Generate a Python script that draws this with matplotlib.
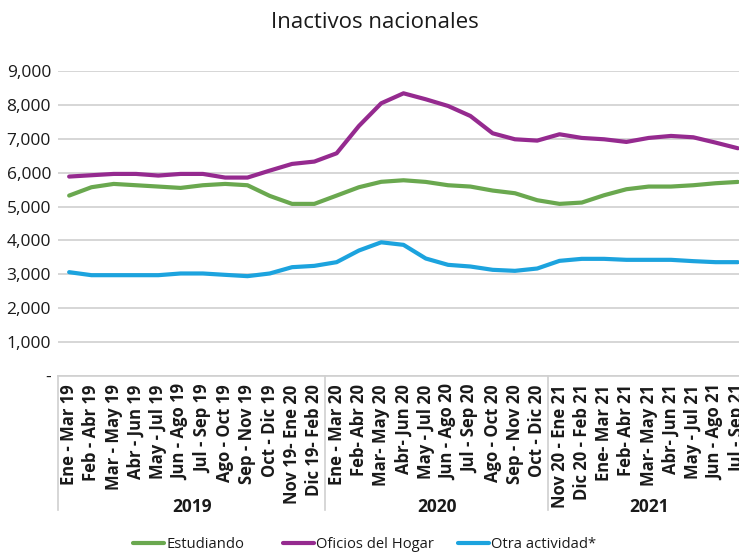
import matplotlib
matplotlib.use("Agg")
import matplotlib.pyplot as plt
import matplotlib.transforms as mtransforms

plt.rcParams['font.family'] = ['Open Sans', 'DejaVu Sans']

periods = [
    "Ene - Mar 19", "Feb - Abr 19", "Mar - May 19", "Abr - Jun 19", "May - Jul 19",
    "Jun - Ago 19", "Jul - Sep 19", "Ago - Oct 19", "Sep - Nov 19", "Oct - Dic 19",
    "Nov 19- Ene 20", "Dic 19- Feb 20",
    "Ene - Mar 20", "Feb- Abr 20", "Mar- May 20", "Abr- Jun 20", "May - Jul 20",
    "Jun - Ago 20", "Jul - Sep 20", "Ago - Oct 20", "Sep - Nov 20", "Oct - Dic 20",
    "Nov 20 - Ene 21", "Dic 20 - Feb 21", "Ene- Mar 21", "Feb- Abr 21", "Mar- May 21",
    "Abr- Jun 21", "May - Jul 21", "Jun - Ago 21", "Jul - Sep 21",
]
years = ["2019", "2020", "2021"]
year_sizes = [12, 10, 9]

estudiando = [5324, 5570, 5668, 5629, 5590, 5550, 5629, 5668, 5629, 5314, 5079, 5079,
              5324, 5570, 5730, 5776, 5727, 5629, 5590, 5472, 5393, 5187,
              5079, 5118, 5334, 5511, 5590, 5590, 5629, 5688, 5727]
oficios_hogar = [5885, 5924, 5963, 5963, 5914, 5963, 5963, 5855, 5855, 6061, 6258, 6327,
                 6572, 7378, 8047, 8342, 8165, 7968, 7673, 7162, 6985, 6946,
                 7133, 7025, 6985, 6907, 7025, 7084, 7044, 6887, 6720]
otra_actividad = [3064, 2975, 2975, 2975, 2975, 3025, 3025, 2985, 2946, 3025, 3211, 3250,
                  3359, 3703, 3945, 3870, 3467, 3280, 3231, 3133, 3103, 3172,
                  3398, 3457, 3457, 3428, 3428, 3428, 3389, 3359, 3359]

series = [
    ("Estudiando", estudiando, "#6aa84f"),
    ("Oficios del Hogar", oficios_hogar, "#952a8f"),
    ("Otra actividad*", otra_actividad, "#1ca3de"),
]

text_color = "#1a1a1a"
grid_color = "#d0d0d0"

fig = plt.figure(figsize=(7.39, 5.54), dpi=100)
ax = fig.add_axes([58 / 739, 1 - 376 / 554, (749 - 58) / 739, (376 - 71) / 554])

x = list(range(len(periods)))
handles = []
for name, vals, col in series:
    line, = ax.plot(x, vals, color=col, lw=3.0, label=name, solid_capstyle='round')
    handles.append(line)

ax.set_xlim(-0.5, len(periods) - 0.5)
ax.set_ylim(0, 9000)
yt = list(range(0, 9001, 1000))
ax.set_yticks(yt)
ax.set_yticklabels(["-"] + [f"{v:,}" for v in yt[1:]], fontsize=12.5, color=text_color)
ax.yaxis.grid(True, color=grid_color, lw=1.2)
ax.set_axisbelow(True)
for s in ["top", "right", "left"]:
    ax.spines[s].set_visible(False)
ax.spines["bottom"].set_color(grid_color)
ax.spines["bottom"].set_linewidth(1.2)
ax.tick_params(axis="y", length=0, pad=5)
ax.tick_params(axis="x", length=0, pad=6)

ax.set_xticks(x)
ax.set_xticklabels(periods, rotation=90, fontsize=12, fontweight="bold", color=text_color)

# year group separators and labels below the tick labels
trans = mtransforms.blended_transform_factory(ax.transData, ax.transAxes)
bottom_frac = (510 - 376) / (376 - 71)
edges = [-0.5]
for n in year_sizes:
    edges.append(edges[-1] + n)
for e in edges:
    ax.plot([e, e], [0, -bottom_frac], transform=trans, color=grid_color, lw=1.2, clip_on=False)
label_y = -(507 - 376) / (376 - 71)
for yr, a, b in zip(years, edges[:-1], edges[1:]):
    ax.text((a + b) / 2, label_y, yr, transform=trans, ha="center", va="center",
            fontsize=12.5, fontweight="bold", color=text_color)

fig.text(375 / 739, 1 - 22 / 554, "Inactivos nacionales", ha="center", va="center",
         fontsize=16, color=text_color)

# legend entries placed individually along the bottom
legend_x = [133, 283, 458]
for h, lx in zip(handles, legend_x):
    fig.legend(handles=[h], labels=[h.get_label()], loc="center left",
               bbox_to_anchor=(lx / 739, 1 - 545 / 554), frameon=False,
               fontsize=10.6, handlelength=2.1, handletextpad=0.15,
               borderpad=0, borderaxespad=0, labelcolor=text_color)

fig.savefig("out.png", dpi=100)
